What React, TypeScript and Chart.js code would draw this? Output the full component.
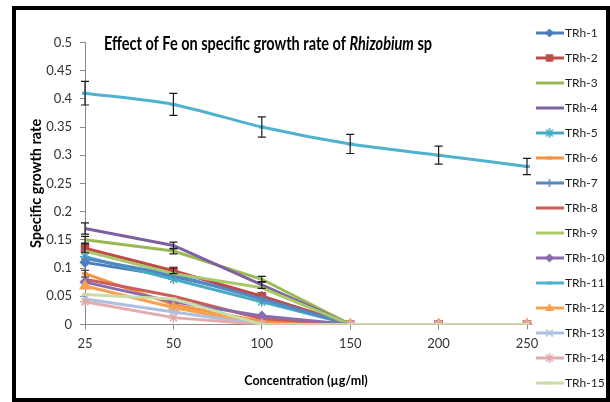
import React, { useEffect, useRef } from 'react';
import { Chart, registerables } from 'chart.js';

Chart.register(...registerables);

// ---------- data ----------
const concentrations = ['25', '50', '100', '150', '200', '250'];
const seriesNames = ['TRh-1', 'TRh-2', 'TRh-3', 'TRh-4', 'TRh-5', 'TRh-6', 'TRh-7', 'TRh-8', 'TRh-9', 'TRh-10', 'TRh-11', 'TRh-12', 'TRh-13', 'TRh-14', 'TRh-15'];

const trh1 = [0.11, 0.085, 0.05, 0, 0, 0];
const trh2 = [0.135, 0.095, 0.05, 0, 0, 0];
const trh3 = [0.15, 0.13, 0.08, 0, 0, 0];
const trh4 = [0.17, 0.14, 0.07, 0, 0, 0];
const trh5 = [0.12, 0.08, 0.04, 0, 0, 0];
const trh6 = [0.09, 0.035, 0.005, 0, 0, 0];
const trh7 = [0.117, 0.088, 0.045, 0, 0, 0];
const trh8 = [0.08, 0.05, 0.01, 0, 0, 0];
const trh9 = [0.13, 0.09, 0.065, 0, 0, 0];
const trh10 = [0.075, 0.04, 0.015, 0, 0, 0];
const trh11 = [0.41, 0.39, 0.35, 0.32, 0.3, 0.28];
const trh12 = [0.068, 0.03, 0, 0, 0, 0];
const trh13 = [0.045, 0.022, 0, 0, 0, 0];
const trh14 = [0.04, 0.012, 0, 0, 0, 0];
const trh15 = [0.053, 0.045, 0, 0, 0, 0];

// standard errors (error bars)
const trh11Err = [0.021, 0.0195, 0.018, 0.017, 0.016, 0.0145];
const trh4Err = [0.01, 0.006, 0.006, 0, 0, 0];
const trh3Err = [0.006, 0.005, 0.005, 0, 0, 0];
const trh6Err = [0.006, 0, 0, 0, 0, 0];
const trh2Err = [0.008, 0.005, 0, 0, 0, 0];

const yTicks = [0, 0.05, 0.1, 0.15, 0.2, 0.25, 0.3, 0.35, 0.4, 0.45, 0.5];

const chartTitleParts = [
  { text: 'Effect of Fe on specific growth rate of ', italic: false },
  { text: 'Rhizobium', italic: true },
  { text: ' sp', italic: false },
];
const yAxisTitle = 'Specific growth rate';
const xAxisTitle = 'Concentration (µg/ml)';

// ---------- styles ----------
const seriesValues = [trh1, trh2, trh3, trh4, trh5, trh6, trh7, trh8, trh9, trh10, trh11, trh12, trh13, trh14, trh15];
const seriesErrors: (number[] | null)[] = [null, trh2Err, trh3Err, trh4Err, null, trh6Err, null, null, null, null, trh11Err, null, null, null, null];
const seriesColors = ['#4A7EBB', '#BE4B48', '#98B954', '#7D60A0', '#46AAC5', '#F69240', '#5587C2', '#CB5D5A', '#A8C86A', '#8A6CAE', '#50B2CF', '#F8A04F', '#AEC0E2', '#E4ABAD', '#CADDA8'];
const seriesMarkers = ['rectRot', 'rect', 'none', 'none', 'star', 'line', 'cross', 'none', 'none', 'rectRot', 'line', 'triangle', 'crossRot', 'star', 'line'];
const markerRadius = [4.5, 5, 0, 0, 5, 3, 4, 0, 0, 4.5, 3, 5.5, 5, 5, 3];

const FONT = 'Lato, "Open Sans", sans-serif';

function drawMarker(ctx: CanvasRenderingContext2D, style: string, x: number, y: number, r: number, color: string) {
  if (style === 'none' || r <= 0) return;
  ctx.save();
  ctx.fillStyle = color;
  ctx.strokeStyle = color;
  ctx.lineWidth = 1.5;
  ctx.beginPath();
  if (style === 'rectRot') {
    ctx.moveTo(x, y - r); ctx.lineTo(x + r, y); ctx.lineTo(x, y + r); ctx.lineTo(x - r, y); ctx.closePath(); ctx.fill();
  } else if (style === 'rect') {
    ctx.rect(x - r * 0.75, y - r * 0.75, r * 1.5, r * 1.5); ctx.fill();
  } else if (style === 'triangle') {
    ctx.moveTo(x, y - r); ctx.lineTo(x + r * 0.9, y + r * 0.6); ctx.lineTo(x - r * 0.9, y + r * 0.6); ctx.closePath(); ctx.fill();
  } else if (style === 'star') {
    ctx.moveTo(x, y - r); ctx.lineTo(x, y + r);
    ctx.moveTo(x - r * 0.7, y - r * 0.7); ctx.lineTo(x + r * 0.7, y + r * 0.7);
    ctx.moveTo(x + r * 0.7, y - r * 0.7); ctx.lineTo(x - r * 0.7, y + r * 0.7);
    ctx.stroke();
  } else if (style === 'crossRot') {
    ctx.moveTo(x - r * 0.7, y - r * 0.7); ctx.lineTo(x + r * 0.7, y + r * 0.7);
    ctx.moveTo(x + r * 0.7, y - r * 0.7); ctx.lineTo(x - r * 0.7, y + r * 0.7);
    ctx.stroke();
  } else if (style === 'cross') {
    ctx.moveTo(x, y - r); ctx.lineTo(x, y + r);
    ctx.stroke();
  } else if (style === 'line') {
    ctx.lineWidth = 3;
    ctx.moveTo(x - r, y); ctx.lineTo(x + r, y);
    ctx.stroke();
  }
  ctx.restore();
}

function makeLegendIcon(i: number): HTMLCanvasElement {
  const c = document.createElement('canvas');
  c.width = 28;
  c.height = 14;
  const ctx = c.getContext('2d') as CanvasRenderingContext2D;
  ctx.strokeStyle = seriesColors[i];
  ctx.lineWidth = 3;
  ctx.beginPath();
  ctx.moveTo(0, 7);
  ctx.lineTo(28, 7);
  ctx.stroke();
  drawMarker(ctx, seriesMarkers[i], 14, 7, Math.min(markerRadius[i], 5), seriesColors[i]);
  return c;
}

const errorBarPlugin = {
  id: 'errorBars',
  afterDatasetsDraw(chart: any) {
    const ctx = chart.ctx as CanvasRenderingContext2D;
    const yScale = chart.scales.y;
    chart.data.datasets.forEach((ds: any, i: number) => {
      const errs = ds.errors as number[] | null;
      if (!errs) return;
      const meta = chart.getDatasetMeta(i);
      meta.data.forEach((pt: any, j: number) => {
        const e = errs[j];
        if (!e) return;
        const v = ds.data[j];
        const yTop = yScale.getPixelForValue(v + e);
        const yBot = yScale.getPixelForValue(v - e);
        ctx.save();
        ctx.strokeStyle = '#1a1a1a';
        ctx.lineWidth = 1.2;
        ctx.beginPath();
        ctx.moveTo(pt.x, yTop); ctx.lineTo(pt.x, yBot);
        ctx.moveTo(pt.x - 4, yTop); ctx.lineTo(pt.x + 4, yTop);
        ctx.moveTo(pt.x - 4, yBot); ctx.lineTo(pt.x + 4, yBot);
        ctx.stroke();
        ctx.restore();
      });
    });
  },
};

const titlePlugin = {
  id: 'mixedTitle',
  afterDraw(chart: any) {
    const ctx = chart.ctx as CanvasRenderingContext2D;
    const size = 18;
    const left = 104;
    const targetWidth = 328;
    const y = 44;
    ctx.save();
    let total = 0;
    const widths = chartTitleParts.map((p) => {
      ctx.font = `${p.italic ? 'italic ' : ''}bold ${size}px ${FONT}`;
      const w = ctx.measureText(p.text).width;
      total += w;
      return w;
    });
    const sx = targetWidth / total;
    ctx.translate(left, y);
    ctx.scale(sx, 1);
    ctx.fillStyle = '#000';
    ctx.textBaseline = 'middle';
    ctx.textAlign = 'left';
    let x = 0;
    chartTitleParts.forEach((p, k) => {
      ctx.font = `${p.italic ? 'italic ' : ''}bold ${size}px ${FONT}`;
      ctx.fillText(p.text, x, 0);
      x += widths[k];
    });
    ctx.restore();
  },
};

export default function App() {
  const canvasRef = useRef<HTMLCanvasElement | null>(null);

  useEffect(() => {
    const canvas = canvasRef.current;
    if (!canvas) return;
    const icons = seriesNames.map((_, i) => makeLegendIcon(i));
    const n = seriesNames.length;
    const datasets = seriesNames.map((name, i) => ({
      label: name,
      data: seriesValues[i],
      errors: seriesErrors[i],
      borderColor: seriesColors[i],
      backgroundColor: seriesColors[i],
      borderWidth: 3,
      tension: i === 10 ? 0.25 : 0,
      pointStyle: seriesMarkers[i] === 'none' ? 'circle' : seriesMarkers[i],
      pointRadius: markerRadius[i],
      pointBackgroundColor: seriesColors[i],
      pointBorderColor: seriesColors[i],
      pointBorderWidth: seriesMarkers[i] === 'line' ? 3 : 1.5,
      order: n - i,
      fill: false,
    }));

    const chart = new Chart(canvas, {
      type: 'line',
      data: { labels: concentrations, datasets: datasets as any },
      options: {
        responsive: false,
        animation: false,
        devicePixelRatio: 1,
        layout: { padding: { top: 14, bottom: 0, left: 24, right: 0 } },
        plugins: {
          tooltip: { enabled: false },
          title: {
            display: true,
            text: '',
            fullSize: false,
            padding: { top: 14, bottom: 0 },
            font: { size: 12, family: FONT },
          },
          legend: {
            display: true,
            position: 'right',
            align: 'end',
            maxWidth: 83,
            labels: {
              usePointStyle: true,
              pointStyleWidth: 19,
              padding: 13,
              color: '#1f1f1f',
              font: { size: 12, family: FONT },
              sort: (a: any, b: any) => a.datasetIndex - b.datasetIndex,
              generateLabels: (ch: any) => {
                const base = Chart.defaults.plugins.legend.labels.generateLabels(ch);
                return base.map((item: any) => ({ ...item, pointStyle: icons[item.datasetIndex] }));
              },
            },
          },
        },
        scales: {
          x: {
            type: 'category',
            offset: false,
            grid: { display: true, drawOnChartArea: false, drawTicks: true, tickLength: 5, color: '#8a8a8a' },
            border: { display: true, color: '#8a8a8a', width: 1 },
            ticks: { color: '#333', padding: 7, font: { size: 13, family: FONT }, maxRotation: 0 },
            title: {
              display: true,
              text: xAxisTitle,
              color: '#000',
              font: { size: 12.5, weight: 'bold', family: FONT },
              padding: { top: 14, bottom: 14 },
            },
          },
          y: {
            type: 'linear',
            min: 0,
            max: 0.5,
            afterBuildTicks: (axis: any) => {
              axis.ticks = yTicks.map((v) => ({ value: v }));
            },
            afterFit: (axis: any) => {
              axis.width = 61;
            },
            grid: { display: true, drawOnChartArea: false, drawTicks: true, tickLength: 5, color: '#8a8a8a' },
            border: { display: true, color: '#8a8a8a', width: 1 },
            ticks: {
              color: '#333',
              padding: 8,
              font: { size: 13, family: FONT },
              callback: (v: any) => String(Number(Number(v).toFixed(2))),
            },
            title: {
              display: true,
              text: yAxisTitle,
              color: '#000',
              font: { size: 14.5, weight: 'bold', family: FONT },
              padding: { top: 4, bottom: 4 },
            },
          },
        },
      },
      plugins: [errorBarPlugin, titlePlugin],
    } as any);

    return () => {
      chart.destroy();
    };
  }, []);

  return (
    <div style={{ position: 'absolute', left: 0, top: 0, width: 610, height: 402, overflow: 'hidden', background: '#fff' }}>
      <canvas ref={canvasRef} width={610} height={402} style={{ position: 'absolute', left: 0, top: 0, width: 610, height: 402 }} />
      <div
        style={{
          position: 'absolute',
          left: 12,
          top: 6,
          width: 598,
          height: 396,
          boxSizing: 'border-box',
          border: '4px solid #000',
          pointerEvents: 'none',
        }}
      />
    </div>
  );
}
